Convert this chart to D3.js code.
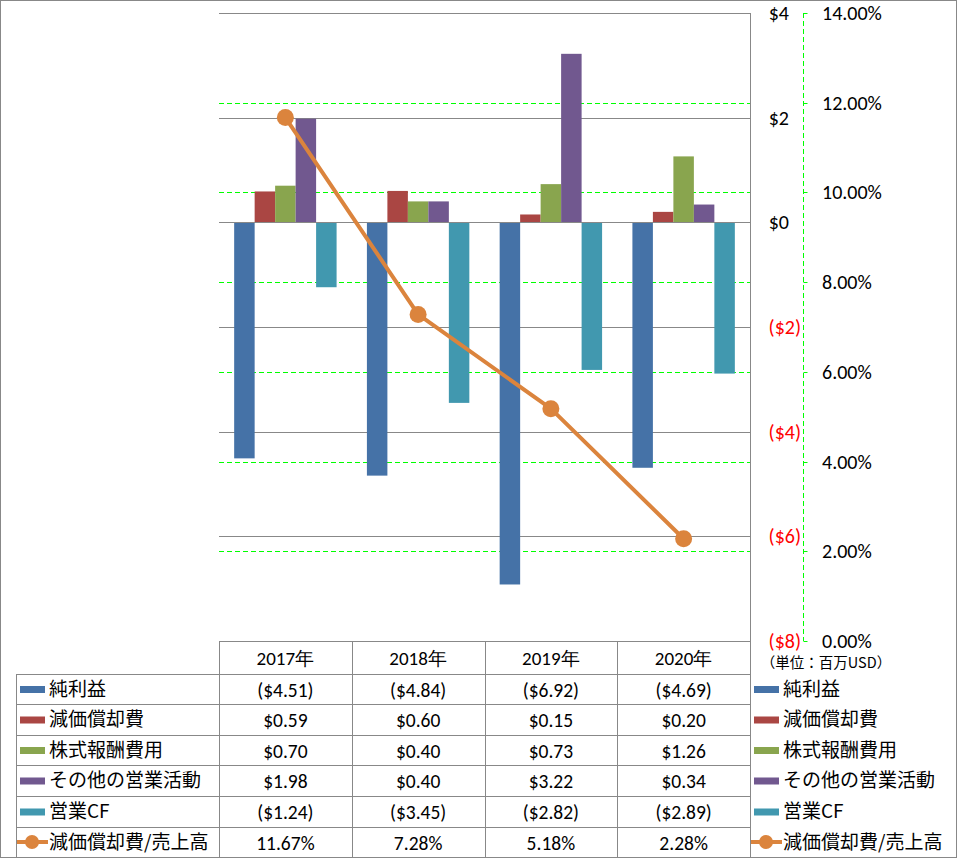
<!DOCTYPE html>
<html><head><meta charset="utf-8">
<script src="https://cdn.jsdelivr.net/npm/d3@7"></script>
<style>body{margin:0;background:#fff}svg{display:block}</style>
</head><body>
<svg id="c" width="957" height="858"></svg>
<script>
const years = ["2017年","2018年","2019年","2020年"];
const seriesNames = ["純利益","減価償却費","株式報酬費用","その他の営業活動","営業CF"];
const netIncome = [-4.51,-4.84,-6.92,-4.69];
const depreciation = [0.59,0.60,0.15,0.20];
const stockComp = [0.70,0.40,0.73,1.26];
const otherOps = [1.98,0.40,3.22,0.34];
const operatingCF = [-1.24,-3.45,-2.82,-2.89];
const lineName = "減価償却費/売上高";
const deprRatio = [11.67,7.28,5.18,2.28];
const leftTicks = [4,2,0,-2,-4,-6,-8];
const rightTicks = [14,12,10,8,6,4,2,0];
const unitLabel = "（単位：百万USD）";
const colors = ["#4572A7","#AA4643","#89A54E","#71588F","#4198AF"];
const lineColor = "#DB843D";
const series = [netIncome,depreciation,stockComp,otherOps,operatingCF];

const svg = d3.select("#c");
const font = "'Noto Sans CJK JP','Noto Sans',sans-serif";
const numFont = "Carlito,'Open Sans','Noto Sans',sans-serif";
const L=219,R=750,T=13,B=641;
const x = d3.scaleBand().domain(years).range([L,R]);
const xs = d3.scaleBand().domain(d3.range(5)).range([0,x.bandwidth()]).paddingOuter(0.74).paddingInner(0);
const y = d3.scaleLinear().domain([-8,4]).range([B,T]);
const y2 = d3.scaleLinear().domain([0,14]).range([B,T]);

svg.append("rect").attr("x",0.5).attr("y",0.5).attr("width",956).attr("height",857).attr("fill","none").attr("stroke","#888");

// green dashed secondary gridlines
svg.append("g").selectAll("line").data(rightTicks.filter(d=>d>0&&d<14)).join("line")
 .attr("x1",L).attr("x2",R).attr("y1",d=>Math.round(y2(d))+0.5).attr("y2",d=>Math.round(y2(d))+0.5)
 .attr("stroke","#00FF00").attr("stroke-dasharray","5,3").attr("stroke-width",1);
// gray primary gridlines
svg.append("g").selectAll("line").data(leftTicks.filter(d=>d>-8)).join("line")
 .attr("x1",L).attr("x2",R).attr("y1",d=>Math.round(y(d))+0.5).attr("y2",d=>Math.round(y(d))+0.5)
 .attr("stroke","#888").attr("stroke-width",1);

// bars
series.forEach((vals,si)=>{
  svg.append("g").selectAll("rect").data(vals).join("rect")
   .attr("x",(d,i)=>x(years[i])+xs(si))
   .attr("width",xs.bandwidth())
   .attr("y",d=>y(Math.max(0,d)))
   .attr("height",d=>Math.abs(y(d)-y(0)))
   .attr("fill",colors[si]);
});
svg.append("line").attr("x1",L).attr("x2",R).attr("y1",Math.round(y(0))+0.5).attr("y2",Math.round(y(0))+0.5).attr("stroke","#888");

// line series
const cx = i=>x(years[i])+x.bandwidth()/2;
svg.append("path").datum(deprRatio)
 .attr("d",d3.line().x((d,i)=>cx(i)).y(d=>y2(d)))
 .attr("fill","none").attr("stroke",lineColor).attr("stroke-width",4).attr("stroke-linejoin","round");
svg.append("g").selectAll("circle").data(deprRatio).join("circle")
 .attr("cx",(d,i)=>cx(i)).attr("cy",d=>y2(d)).attr("r",8.5).attr("fill",lineColor);

svg.append("line").attr("x1",R+0.5).attr("x2",R+0.5).attr("y1",T).attr("y2",857).attr("stroke","#888");

// left axis labels
const fmtD = d=> d<0?`($${-d})`:`$${d}`;
svg.append("g").selectAll("text").data(leftTicks).join("text")
 .attr("x",d=>d<0?801:789).attr("y",d=>y(d)).attr("dy","0.35em").attr("text-anchor","end")
 .attr("font-family",numFont).attr("font-size",20).attr("fill",d=>d<0?"#FF0000":"#000").text(fmtD);

// secondary axis
const ax = 803.5;
svg.append("line").attr("x1",ax).attr("x2",ax).attr("y1",T).attr("y2",B).attr("stroke","#00FF00").attr("stroke-dasharray","5,3");
svg.append("g").selectAll("line").data(rightTicks).join("line")
 .attr("x1",ax).attr("x2",ax+4).attr("y1",d=>Math.round(y2(d))+0.5).attr("y2",d=>Math.round(y2(d))+0.5).attr("stroke","#00FF00");
svg.append("g").selectAll("text").data(rightTicks).join("text")
 .attr("x",822).attr("y",d=>y2(d)).attr("dy","0.35em")
 .attr("font-family",numFont).attr("font-size",20).attr("fill","#000").text(d=>d.toFixed(2)+"%");

svg.append("text").attr("x",826).attr("y",663).attr("dy","0.35em").attr("text-anchor","middle")
 .attr("font-family",font).attr("font-size",14.5).text(unitLabel);

// table
const rowY = [641,674,704,735,765,796,827,857];
const tg = svg.append("g").attr("stroke","#888").attr("stroke-width",1);
rowY.slice(0,7).forEach((yy,i)=>{
  tg.append("line").attr("x1",i===0?L:16).attr("x2",R).attr("y1",yy+0.5).attr("y2",yy+0.5);
});
[L,...years.slice(1).map(d=>x(d))].forEach(xx=>{
  tg.append("line").attr("x1",Math.round(xx)+0.5).attr("x2",Math.round(xx)+0.5).attr("y1",B).attr("y2",857);
});
tg.append("line").attr("x1",16.5).attr("x2",16.5).attr("y1",674).attr("y2",857);

svg.append("g").selectAll("text").data(years).join("text")
 .attr("x",d=>x(d)+x.bandwidth()/2).attr("y",(rowY[0]+rowY[1])/2+1).attr("dy","0.35em").attr("text-anchor","middle")
 .attr("font-family",numFont).attr("font-size",19).text(d=>d);

const fmtV = d=> d<0?`($${(-d).toFixed(2)})`:`$${d.toFixed(2)}`;
const allRows = series.map((v,i)=>({name:seriesNames[i],vals:v.map(fmtV),color:colors[i],line:false}))
  .concat([{name:lineName,vals:deprRatio.map(d=>d.toFixed(2)+"%"),color:lineColor,line:true}]);

allRows.forEach((r,ri)=>{
  const cy = (rowY[ri+1]+rowY[ri+2])/2;
  r.vals.forEach((v,ci)=>{
    svg.append("text").attr("x",x(years[ci])+x.bandwidth()/2).attr("y",cy+1).attr("dy","0.35em").attr("text-anchor","middle")
     .attr("font-family",numFont).attr("font-size",19.5).text(v);
  });
  [[20,50],[754,784]].forEach(([kx,tx])=>{
    if(r.line){
      svg.append("line").attr("x1",kx-3).attr("x2",kx+28).attr("y1",cy).attr("y2",cy).attr("stroke",r.color).attr("stroke-width",4);
      svg.append("circle").attr("cx",kx+12).attr("cy",cy).attr("r",7).attr("fill",r.color);
    } else {
      svg.append("rect").attr("x",kx).attr("y",cy-3).attr("width",25).attr("height",7).attr("fill",r.color);
    }
    svg.append("text").attr("x",tx-1).attr("y",cy).attr("dy","0.35em")
     .attr("font-family",font).attr("font-size",19).text(r.name);
  });
});
</script>
</body></html>
